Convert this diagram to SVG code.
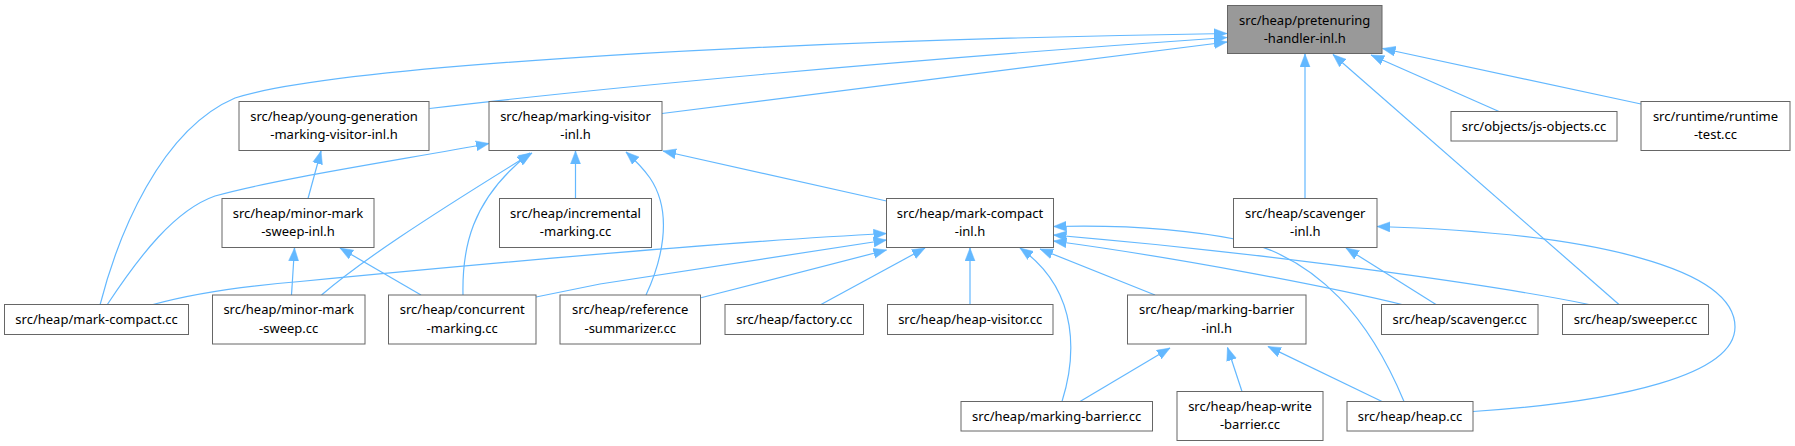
<svg xmlns="http://www.w3.org/2000/svg" width="1795" height="446" viewBox="0 0 1795 446">
<style>
.n rect{fill:#ffffff;stroke:#666666;stroke-width:1}
.n.hl rect{fill:#999999;stroke:#666666}
.n text{font-family:"Noto Sans","DejaVu Sans",sans-serif;font-size:13px;fill:#000000;text-anchor:middle}
.e path{fill:none;stroke:#63b8ff;stroke-width:1.2;marker-end:url(#ah)}
</style>
<defs>
<marker id="ah" markerUnits="userSpaceOnUse" markerWidth="14" markerHeight="11" refX="13" refY="5.5" orient="auto">
<path d="M0,0.5 L13,5.5 L0,10.5 z" fill="#63b8ff" stroke="#63b8ff" stroke-width="0.5"/>
</marker>
</defs>
<rect width="1795" height="446" fill="#ffffff"/>
<g id="edges" class="e">
<path d="M100,305 C118,235 160,130 235,98 C340,64 800,40 1227,33.5"/>
<path d="M429.5,108.5 C600,88 900,60 1227,37.5"/>
<path d="M662,113.5 L1227,42"/>
<path d="M1499,111.5 L1371,55"/>
<path d="M1641,104 L1382.5,48.5"/>
<path d="M1305,198.5 L1305,54"/>
<path d="M1619,304.5 L1333,54.5"/>
<path d="M308,198.5 L321,151"/>
<path d="M107,305 C140,255 175,210 215,196 C280,178 400,160 489,143.5"/>
<path d="M321.5,295 C360,262 420,222 532,153"/>
<path d="M463,295 C462,250 470,200 530,153"/>
<path d="M575.5,198.5 L575.5,151"/>
<path d="M646,295 C660,265 675,215 650,178 C643,168 636,161 626,152"/>
<path d="M886.5,201 L663,151"/>
<path d="M291.5,295 L294.5,248"/>
<path d="M421,295 L340,248"/>
<path d="M153,304.5 C180,297 220,288 300,281.5 C450,267 700,243 886.5,233.5"/>
<path d="M536,297 C560,292 580,288 600,284 L886.5,240"/>
<path d="M700,298 L886.5,250"/>
<path d="M821,304.5 L925,248"/>
<path d="M970,304.5 L970,248"/>
<path d="M1062,401.5 C1075,360 1082,292 1020,248"/>
<path d="M1155,295 L1040,249"/>
<path d="M1402,304.5 C1330,287 1180,258 1053.5,241"/>
<path d="M1589,304.5 C1520,290 1300,256 1053.5,235"/>
<path d="M1404,401.5 C1370,320 1320,260 1240,240 C1180,228 1110,225 1053.5,226.5"/>
<path d="M1436,304.5 L1346,248"/>
<path d="M1473,411.5 C1620,402 1735,375 1735,327 C1735,270 1600,233 1377,226.5"/>
<path d="M1080,401.5 L1170,348"/>
<path d="M1242,391.5 L1227.5,347.5"/>
<path d="M1382,401.5 L1268,346.5"/>
</g>
<g id="n_pretenuring" class="n hl"><rect x="1227.5" y="5.5" width="154.5" height="48"/><text x="1304.7" y="24.5">src/heap/pretenuring</text><text x="1304.7" y="43">-handler-inl.h</text></g>
<g id="n_ygv" class="n"><rect x="239" y="101.5" width="190" height="49"/><text x="334" y="120.5">src/heap/young-generation</text><text x="334" y="139">-marking-visitor-inl.h</text></g>
<g id="n_mvi" class="n"><rect x="489" y="101.5" width="173" height="49"/><text x="575.5" y="120.5">src/heap/marking-visitor</text><text x="575.5" y="139">-inl.h</text></g>
<g id="n_jso" class="n"><rect x="1451" y="111.5" width="166" height="29.5"/><text x="1534" y="130.5">src/objects/js-objects.cc</text></g>
<g id="n_rt" class="n"><rect x="1641" y="101.5" width="149" height="49"/><text x="1715.5" y="120.5">src/runtime/runtime</text><text x="1715.5" y="139">-test.cc</text></g>
<g id="n_mmsi" class="n"><rect x="222" y="198.5" width="152" height="49"/><text x="298" y="217.5">src/heap/minor-mark</text><text x="298" y="236">-sweep-inl.h</text></g>
<g id="n_inc" class="n"><rect x="499.5" y="198.5" width="152" height="49"/><text x="575.5" y="217.5">src/heap/incremental</text><text x="575.5" y="236">-marking.cc</text></g>
<g id="n_mci" class="n"><rect x="886.5" y="198.5" width="167" height="49"/><text x="970" y="217.5">src/heap/mark-compact</text><text x="970" y="236">-inl.h</text></g>
<g id="n_scvi" class="n"><rect x="1233.5" y="198.5" width="143.5" height="49"/><text x="1305.2" y="217.5">src/heap/scavenger</text><text x="1305.2" y="236">-inl.h</text></g>
<g id="n_mc" class="n"><rect x="4.5" y="304.5" width="184" height="30"/><text x="96.5" y="323.5">src/heap/mark-compact.cc</text></g>
<g id="n_mms" class="n"><rect x="212.5" y="295" width="152.5" height="49"/><text x="288.7" y="314">src/heap/minor-mark</text><text x="288.7" y="332.5">-sweep.cc</text></g>
<g id="n_cm" class="n"><rect x="388.5" y="295" width="147.5" height="49"/><text x="462.2" y="314">src/heap/concurrent</text><text x="462.2" y="332.5">-marking.cc</text></g>
<g id="n_rs" class="n"><rect x="560" y="295" width="140.5" height="49"/><text x="630.2" y="314">src/heap/reference</text><text x="630.2" y="332.5">-summarizer.cc</text></g>
<g id="n_fac" class="n"><rect x="725" y="304.5" width="138.5" height="30"/><text x="794.2" y="323.5">src/heap/factory.cc</text></g>
<g id="n_hv" class="n"><rect x="887.5" y="304.5" width="165.5" height="30"/><text x="970.2" y="323.5">src/heap/heap-visitor.cc</text></g>
<g id="n_mbi" class="n"><rect x="1127.5" y="295" width="178.5" height="49"/><text x="1216.7" y="314">src/heap/marking-barrier</text><text x="1216.7" y="332.5">-inl.h</text></g>
<g id="n_scv" class="n"><rect x="1381.5" y="304.5" width="156.5" height="30"/><text x="1459.7" y="323.5">src/heap/scavenger.cc</text></g>
<g id="n_swp" class="n"><rect x="1562.5" y="304.5" width="146" height="30"/><text x="1635.5" y="323.5">src/heap/sweeper.cc</text></g>
<g id="n_mb" class="n"><rect x="961" y="401.5" width="191.5" height="29.5"/><text x="1056.7" y="420.5">src/heap/marking-barrier.cc</text></g>
<g id="n_hwb" class="n"><rect x="1177" y="391.5" width="146" height="49"/><text x="1250" y="410.5">src/heap/heap-write</text><text x="1250" y="429">-barrier.cc</text></g>
<g id="n_heap" class="n"><rect x="1347" y="401.5" width="126" height="29.5"/><text x="1410" y="420.5">src/heap/heap.cc</text></g>
</svg>
